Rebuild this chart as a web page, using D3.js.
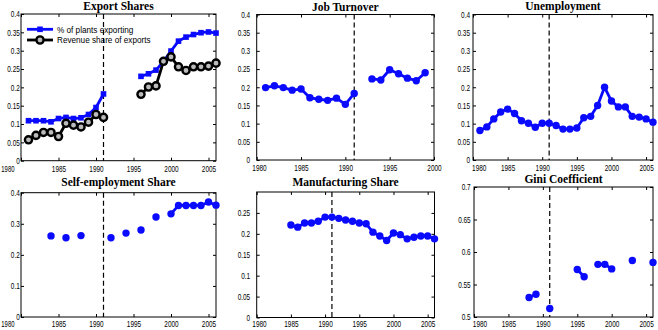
<!DOCTYPE html>
<html><head><meta charset="utf-8">
<script src="https://cdn.jsdelivr.net/npm/d3@7"></script>
<style>body{margin:0;background:#fff}svg{display:block}</style>
</head><body>
<svg id="c" width="658" height="330"></svg>
<script>
// ---- data ----
const exportYears = [1981,1982,1983,1984,1985,1986,1987,1988,1989,1990,1991,1996,1997,1998,1999,2000,2001,2002,2003,2004,2005,2006];
const pctExporting = [0.109,0.109,0.109,0.106,0.115,0.118,0.115,0.117,0.126,0.145,0.182,0.230,0.237,0.247,0.271,0.299,0.326,0.337,0.344,0.349,0.351,0.348];
const revenueShare = [0.057,0.069,0.077,0.077,0.066,0.102,0.097,0.092,0.105,0.126,0.118,0.181,0.201,0.204,0.271,0.283,0.256,0.246,0.256,0.256,0.258,0.266];
const jobYears = [1981,1982,1983,1984,1985,1986,1987,1988,1989,1990,1991,1993,1994,1995,1996,1997,1998,1999];
const jobTurnover = [0.199,0.204,0.199,0.192,0.195,0.171,0.167,0.164,0.170,0.153,0.183,0.223,0.220,0.248,0.237,0.225,0.218,0.240];
const unempYears = [1981,1982,1983,1984,1985,1986,1987,1988,1989,1990,1991,1992,1993,1994,1995,1996,1997,1998,1999,2000,2001,2002,2003,2004,2005,2006];
const unemployment = [0.081,0.091,0.113,0.132,0.140,0.128,0.108,0.101,0.090,0.101,0.101,0.095,0.085,0.085,0.088,0.116,0.120,0.150,0.200,0.162,0.146,0.146,0.120,0.118,0.113,0.104];
const selfYears = [1984,1986,1988,1992,1994,1996,1998,2000,2001,2002,2003,2004,2005,2006];
const selfEmployment = [0.261,0.255,0.262,0.255,0.270,0.280,0.322,0.332,0.359,0.359,0.359,0.359,0.370,0.360];
const manufYears = [1985,1986,1987,1988,1989,1990,1991,1992,1993,1994,1995,1996,1997,1998,1999,2000,2001,2002,2003,2004,2005,2006];
const manufShare = [0.221,0.216,0.226,0.226,0.230,0.240,0.240,0.237,0.233,0.230,0.226,0.224,0.204,0.195,0.184,0.202,0.198,0.188,0.192,0.195,0.195,0.188];
const giniYears = [1988,1989,1991,1995,1996,1998,1999,2000,2003,2006];
const gini = [0.530,0.535,0.513,0.573,0.562,0.581,0.581,0.574,0.587,0.584];
const reformYear = 1991;
const xTicksA = [1980,1985,1990,1995,2000,2005];
const xTicksB = [1980,1985,1990,1995,2000];
const yTicks04 = [0,0.05,0.1,0.15,0.2,0.25,0.3,0.35,0.4];
const yTicksSelf = [0,0.1,0.2,0.3,0.4];
const yTicksManuf = [0,0.05,0.1,0.15,0.2,0.25];
const yTicksGini = [0.5,0.55,0.6,0.65,0.7];
const legendLabels = ["% of plants exporting","Revenue share of exports"];

// ---- drawing ----
const svg = d3.select("#c");
const BLUE = "#0a0aff";
const SANS = "'Liberation Sans',Arial,sans-serif";
const TICKFS = "8.6px";
const SQUEEZE = 0.75;
const fmt = v => String(+v.toFixed(2));

function condense(sel, f){
  sel.each(function(){
    const w=this.getComputedTextLength();
    if(w>0) d3.select(this).attr("textLength",w*f).attr("lengthAdjust","spacingAndGlyphs");
  });
}

function segments(years, vals){
  const segs=[]; let cur=[];
  years.forEach((y,i)=>{
    if(cur.length && y-years[i-1]!==1){segs.push(cur);cur=[];}
    cur.push([y,vals[i]]);
  });
  if(cur.length) segs.push(cur);
  return segs;
}

function panel(cfg){
  const x=d3.scaleLinear().domain(cfg.xd).range([cfg.x0,cfg.x1]);
  const y=d3.scaleLinear().domain(cfg.yd).range([cfg.y1,cfg.y0]);
  const g=svg.append("g");
  g.append("rect").attr("x",cfg.x0).attr("y",cfg.y0).attr("width",cfg.x1-cfg.x0).attr("height",cfg.y1-cfg.y0)
   .attr("fill","none").attr("stroke","#000").attr("stroke-width",1);
  const styleAxis=a=>{a.select(".domain").remove();a.selectAll("line").attr("stroke","#000");
    a.selectAll("text").attr("font-family",SANS).attr("font-size",TICKFS).attr("fill","#000");
    condense(a.selectAll("text"),SQUEEZE);};
  const bare=a=>{a.select(".domain").remove();a.selectAll("text").remove();a.selectAll("line").attr("stroke","#000");};
  const xa=g.append("g").attr("transform",`translate(0,${cfg.y1})`)
   .call(d3.axisBottom(x).tickValues(cfg.xt).tickFormat(d3.format("d")).tickSize(-3).tickPadding(cfg.xpad)).call(styleAxis);
  g.append("g").attr("transform",`translate(0,${cfg.y0})`)
   .call(d3.axisTop(x).tickValues(cfg.xt).tickFormat("").tickSize(-3)).call(bare);
  const ya=g.append("g").attr("transform",`translate(${cfg.x0},0)`)
   .call(d3.axisLeft(y).tickValues(cfg.yt).tickFormat(fmt).tickSize(-3).tickPadding(cfg.ypad)).call(styleAxis);
  g.append("g").attr("transform",`translate(${cfg.x1},0)`)
   .call(d3.axisRight(y).tickValues(cfg.yt).tickFormat("").tickSize(-3)).call(bare);
  // keep the corner labels apart
  const y0lab=ya.selectAll(".tick text").nodes()[0];
  const x0node=xa.selectAll(".tick text").nodes()[0];
  const x0lab=d3.select(x0node);
  const w0=+y0lab.getAttribute("textLength");
  if(cfg.first==="left"){
    const endX=-(cfg.ypad+w0)-2.2;
    x0lab.attr("textLength",null).attr("lengthAdjust",null);
    const full=x0node.getComputedTextLength();
    const room=cfg.x0+endX-0.8;
    const sx=Math.min(SQUEEZE,room/full);
    x0lab.attr("text-anchor","end").attr("x",0).attr("transform",`translate(${endX},0) scale(${sx},1)`);
  } else {
    x0lab.attr("text-anchor","start").attr("x",-cfg.ypad+1.6);
  }
  g.append("line").attr("x1",x(reformYear)).attr("x2",x(reformYear)).attr("y1",cfg.y0).attr("y2",cfg.y1)
   .attr("stroke","#000").attr("stroke-width",1.2).attr("stroke-dasharray","5,3");
  g.append("text").attr("x",(cfg.x0+cfg.x1)/2).attr("y",cfg.ty).attr("text-anchor","middle")
   .attr("font-family","'Liberation Serif','Times New Roman',serif").attr("font-weight","bold").attr("font-size","11.5px")
   .text(cfg.title);
  const line=d3.line().x(d=>x(d[0])).y(d=>y(d[1]));
  cfg.series.forEach(s=>{
    segments(s.years,s.values).forEach(seg=>{
      if(seg.length>1) g.append("path").attr("d",line(seg)).attr("fill","none").attr("stroke",s.color)
        .attr("stroke-width",2.8).attr("stroke-linejoin","round");
    });
    drawMarkers(g,s.years.map((yr,i)=>[x(yr),y(s.values[i])]),s);
  });
  return {x,y,g};
}

function drawMarkers(g,pts,s){
  pts.forEach(p=>{
    if(s.marker==="square"){
      g.append("rect").attr("x",p[0]-2.8).attr("y",p[1]-2.8).attr("width",5.6).attr("height",5.6).attr("fill",s.color);
    } else if(s.marker==="ring"){
      g.append("circle").attr("cx",p[0]).attr("cy",p[1]).attr("r",3.6).attr("fill","#bbb").attr("stroke",s.color).attr("stroke-width",2.4);
    } else {
      g.append("circle").attr("cx",p[0]).attr("cy",p[1]).attr("r",3.7).attr("fill",s.color);
    }
  });
}

const p1=panel({x0:21,x1:216,y0:14,y1:160.7,xd:[1980,2006],yd:[0,0.4],xt:xTicksA,yt:yTicks04,ypad:1.2,xpad:4.8,first:"left",title:"Export Shares",ty:10,
  series:[{years:exportYears,values:pctExporting,color:BLUE,marker:"square"},{years:exportYears,values:revenueShare,color:"#000",marker:"ring"}]});
const leg=[{color:BLUE,marker:"square",y:29.3},{color:"#000",marker:"ring",y:40}];
leg.forEach((l,i)=>{
  p1.g.append("line").attr("x1",27).attr("x2",53).attr("y1",l.y).attr("y2",l.y).attr("stroke",l.color).attr("stroke-width",2.8);
  drawMarkers(p1.g,[[40,l.y]],l);
  const t=p1.g.append("text").attr("x",57).attr("y",l.y+3.2).attr("font-family",SANS).attr("font-size","9.5px").text(legendLabels[i]);
  condense(t,0.86);
});
panel({x0:256.7,x1:434,y0:14.5,y1:160,xd:[1980,2000],yd:[0,0.4],xt:xTicksB,yt:yTicks04,ypad:6.5,xpad:4.5,first:"right",title:"Job Turnover",ty:10.5,
  series:[{years:jobYears,values:jobTurnover,color:BLUE,marker:"dot"}]});
panel({x0:473,x1:653,y0:14.5,y1:160,xd:[1980,2006],yd:[0,0.4],xt:xTicksA,yt:yTicks04,ypad:3,xpad:4.5,first:"right",title:"Unemployment",ty:10,
  series:[{years:unempYears,values:unemployment,color:BLUE,marker:"dot"}]});
panel({x0:21,x1:216,y0:192.7,y1:317,xd:[1980,2006],yd:[0,0.4],xt:xTicksA,yt:yTicksSelf,ypad:1.2,xpad:4,first:"left",title:"Self-employment Share",ty:185.5,
  series:[{years:selfYears,values:selfEmployment,color:BLUE,marker:"dot"}]});
panel({x0:256.7,x1:434.5,y0:192,y1:317.5,xd:[1980,2006],yd:[0,0.3],xt:xTicksA,yt:yTicksManuf,ypad:6.5,xpad:3.6,first:"right",title:"Manufacturing Share",ty:185.5,
  series:[{years:manufYears,values:manufShare,color:BLUE,marker:"dot"}]});
panel({x0:474,x1:653,y0:187,y1:317,xd:[1980,2006],yd:[0.5,0.7],xt:xTicksA,yt:yTicksGini,ypad:3.3,xpad:3.8,first:"right",title:"Gini Coefficient",ty:182.5,
  series:[{years:giniYears,values:gini,color:BLUE,marker:"dot"}]});
</script>
</body></html>
